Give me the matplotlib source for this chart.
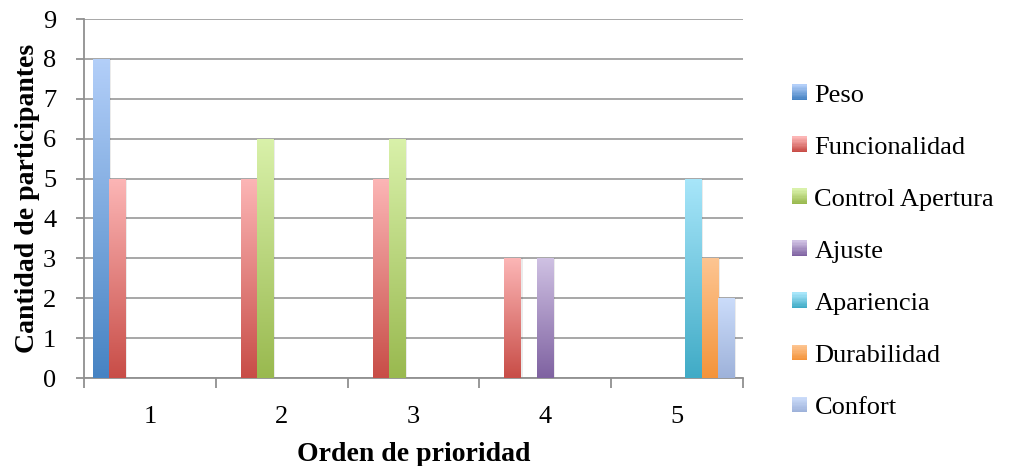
import matplotlib
matplotlib.use("Agg")
import matplotlib.pyplot as plt
import numpy as np
from matplotlib.colors import LinearSegmentedColormap
from matplotlib.patches import Patch, Rectangle
from matplotlib.legend_handler import HandlerBase

categorias = ["1", "2", "3", "4", "5"]
series = ["Peso", "Funcionalidad", "Control Apertura", "Ajuste",
          "Apariencia", "Durabilidad", "Confort"]
peso = [8, 0, 0, 0, 0]
funcionalidad = [5, 5, 5, 3, 0]
control_apertura = [0, 6, 6, 0, 0]
ajuste = [0, 0, 0, 3, 0]
apariencia = [0, 0, 0, 0, 5]
durabilidad = [0, 0, 0, 0, 3]
confort = [0, 0, 0, 0, 2]
valores = [peso, funcionalidad, control_apertura, ajuste,
           apariencia, durabilidad, confort]

# (color claro arriba, color oscuro abajo)
degradados = [("#b3cff9", "#4683c3"), ("#fcb6b6", "#c84d47"),
              ("#d9f1aa", "#99b94f"), ("#cfc1e3", "#7f62a1"),
              ("#a8e6fa", "#40abc6"), ("#fdc592", "#f4943a"),
              ("#cbdcfa", "#9eb2da")]


class HandlerDegradado(HandlerBase):
    """Cuadro de leyenda con degradado vertical en franjas."""
    def create_artists(self, legend, orig_handle, xdescent, ydescent,
                       width, height, fontsize, trans):
        claro, oscuro = orig_handle.degradado
        cmap = LinearSegmentedColormap.from_list("l", [oscuro, claro])
        lado = min(width, height)
        y0 = -ydescent + (height - lado) / 2
        n = 12
        piezas = []
        for k in range(n):
            r = Rectangle((-xdescent, y0 + k * lado / n), lado, lado / n + 0.3,
                          facecolor=cmap(k / (n - 1)), edgecolor="none",
                          transform=trans)
            piezas.append(r)
        return piezas


plt.rcParams['font.family'] = ['Liberation Serif', 'DejaVu Serif']
fig = plt.figure(figsize=(10.09, 4.66), dpi=100)
ax = fig.add_axes([0.0833, 0.1888, 0.6531, 0.7704])

x = np.arange(1, len(categorias) + 1)
ancho = 0.124
grad = np.linspace(0, 1, 256).reshape(-1, 1)

for i, (vals, (claro, oscuro)) in enumerate(zip(valores, degradados)):
    cmap = LinearSegmentedColormap.from_list(series[i], [oscuro, claro])
    pos = x + (i - 3) * ancho
    # sombra suave a la derecha de cada barra
    ax.bar(pos + 0.014, vals, ancho, color="#000000", alpha=0.08,
           edgecolor="none", zorder=2.5)
    barras = ax.bar(pos, vals, ancho, color="none", edgecolor="none", zorder=3)
    for b in barras:
        h = b.get_height()
        if h <= 0:
            continue
        x0 = b.get_x()
        im = ax.imshow(grad, cmap=cmap, aspect="auto", origin="lower",
                       extent=[x0, x0 + ancho, 0, h], zorder=3)
        im.set_clip_path(b)

ax.set_xlim(0.5, 5.5)
ax.set_ylim(0, 9)
ax.set_yticks(range(0, 10))
ax.set_xticks(x)
ax.set_xticklabels(categorias)
ax.set_xticks(np.arange(0.5, 6.0, 1.0), minor=True)
ax.yaxis.grid(True, color="#a0a0a0", linewidth=1.3, zorder=0)
ax.set_axisbelow(True)
for s in ["top", "right"]:
    ax.spines[s].set_visible(False)
for s in ["left", "bottom"]:
    ax.spines[s].set_color("#909090")
    ax.spines[s].set_linewidth(1.3)
ax.tick_params(axis="y", length=6, width=1.3, color="#909090", pad=14,
               labelsize=19)
ax.tick_params(axis="x", which="major", length=0, pad=20, labelsize=19)
ax.tick_params(axis="x", which="minor", length=7, width=1.3, color="#909090")

ax.set_ylabel("Cantidad de participantes", fontsize=20, fontweight="bold",
              labelpad=2)
ax.set_xlabel("Orden de prioridad", fontsize=20, fontweight="bold",
              labelpad=10)

manejadores = []
for d in degradados:
    p = Patch()
    p.degradado = d
    manejadores.append(p)
ax.legend(manejadores, series, loc="upper left",
          bbox_to_anchor=(792 / 1009, 1 - 84 / 466),
          bbox_transform=fig.transFigure, frameon=False, fontsize=19,
          handlelength=0.58, handleheight=0.58, handletextpad=0.27,
          labelspacing=1.12, borderpad=0, borderaxespad=0,
          handler_map={Patch: HandlerDegradado()})

fig.savefig("out.png", dpi=100)
